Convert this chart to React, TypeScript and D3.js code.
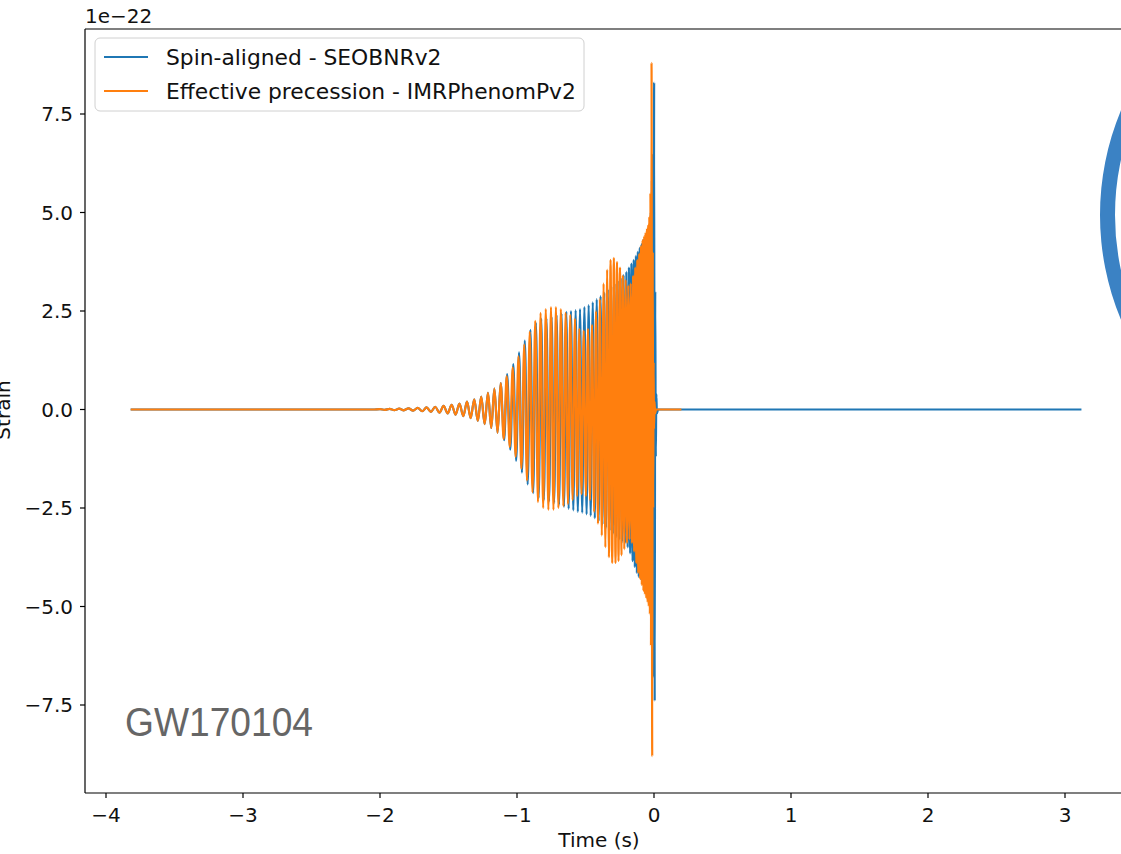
import React from 'react';
import * as d3 from 'd3';

const xTicks = [-4, -3, -2, -1, 0, 1, 2, 3];
const yTicks = [-7.5, -5, -2.5, 0, 2.5, 5, 7.5];
const seriesNames = ['Spin-aligned - SEOBNRv2', 'Effective precession - IMRPhenomPv2'];
const seriesColors = ['#1f77b4', '#ff7f0e'];
const eventLabel = 'GW170104';

// Effective precession - IMRPhenomPv2 (extrema, units of 1e-22)
const orangeT = [
  -3.82, -2.05,
  -2.0, -1.965, -1.93, -1.895, -1.86, -1.826, -1.792, -1.758, -1.725, -1.692,
  -1.66, -1.628, -1.597, -1.566, -1.536, -1.506, -1.477, -1.448, -1.42, -1.392,
  -1.365, -1.338, -1.312, -1.286, -1.261, -1.236, -1.212, -1.188, -1.165, -1.142,
  -1.119, -1.097, -1.075, -1.053, -1.031, -1.01, -0.989, -0.968, -0.947, -0.927,
  -0.907, -0.887, -0.867, -0.847, -0.828, -0.809, -0.79, -0.771, -0.752, -0.734,
  -0.716, -0.698, -0.68, -0.662, -0.645, -0.628, -0.611, -0.594, -0.577, -0.561,
  -0.545, -0.529, -0.513, -0.497, -0.482, -0.467, -0.452, -0.437, -0.423, -0.409,
  -0.395, -0.381, -0.368, -0.355, -0.342, -0.329, -0.317, -0.305, -0.293, -0.281,
  -0.27, -0.259, -0.248, -0.237, -0.227, -0.217, -0.207, -0.197, -0.188, -0.179,
  -0.17, -0.161, -0.153, -0.145, -0.137, -0.129, -0.122, -0.115, -0.108, -0.101,
  -0.095, -0.089, -0.083, -0.077, -0.071, -0.066, -0.061, -0.056, -0.051, -0.046,
  -0.042, -0.038, -0.034, -0.03, -0.026, -0.022, -0.018, -0.013, -0.009, -0.006,
  -0.003, 0.0, 0.004, 0.008, 0.015, 0.2,
];
const orangeV = [
  0, 0,
  0.01, -0.01, 0.015, -0.015, 0.02, -0.02, 0.03, -0.03, 0.04, -0.045,
  0.055, -0.06, 0.07, -0.08, 0.09, -0.1, 0.12, -0.13, 0.15, -0.17,
  0.2, -0.22, 0.26, -0.29, 0.33, -0.37, 0.42, -0.47, 0.53, -0.59,
  0.67, -0.75, 0.85, -0.95, 1.07, -1.2, 1.35, -1.5, 1.65, -1.8,
  1.97, -2.1, 2.25, -2.35, 2.45, -2.5, 2.55, -2.55, 2.6, -2.55,
  2.6, -2.5, 2.55, -2.45, 2.45, -2.4, 2.4, -2.3, 2.3, -2.2,
  2.05, -2.15, 2.0, -2.2, 2.05, -2.3, 2.15, -2.6, 2.5, -2.9,
  2.8, -3.2, 3.2, -3.5, 3.55, -3.75, 3.8, -3.9, 3.85, -3.9,
  3.75, -3.85, 3.6, -3.7, 3.4, -3.55, 3.3, -3.4, 3.15, -3.3,
  3.2, -3.4, 3.4, -3.6, 3.6, -3.9, 3.8, -4.15, 3.95, -4.3,
  4.15, -4.45, 4.3, -4.6, 4.4, -4.7, 4.5, -4.8, 4.6, -4.9,
  4.7, -5.0, 4.9, -5.2, 5.5, -6.0, 8.8, -8.8, 4.0, -2.5,
  1.2, -0.5, 0.2, -0.1, 0, 0,
];

// Spin-aligned - SEOBNRv2
const blueT = [
  -3.82, -2.05,
  -2.0, -1.965, -1.93, -1.895, -1.86, -1.826, -1.792, -1.758, -1.725, -1.692,
  -1.66, -1.628, -1.597, -1.566, -1.536, -1.506, -1.477, -1.448, -1.42, -1.392,
  -1.365, -1.338, -1.312, -1.286, -1.261, -1.236, -1.212, -1.188, -1.165, -1.142,
  -1.119, -1.094, -1.072, -1.049, -1.027, -1.006, -0.985, -0.964, -0.943, -0.922,
  -0.902, -0.882, -0.862, -0.842, -0.823, -0.804, -0.785, -0.766, -0.747, -0.729,
  -0.711, -0.693, -0.675, -0.657, -0.64, -0.623, -0.606, -0.589, -0.572, -0.556,
  -0.54, -0.524, -0.508, -0.492, -0.477, -0.462, -0.447, -0.432, -0.418, -0.404,
  -0.39, -0.376, -0.363, -0.35, -0.337, -0.324, -0.312, -0.3, -0.288, -0.276,
  -0.265, -0.254, -0.243, -0.232, -0.222, -0.212, -0.202, -0.192, -0.183, -0.174,
  -0.165, -0.156, -0.148, -0.14, -0.132, -0.125, -0.118, -0.111, -0.104, -0.097,
  -0.091, -0.085, -0.079, -0.073, -0.067, -0.062, -0.057, -0.052, -0.047, -0.043,
  -0.039, -0.035, -0.031, -0.027, -0.023, -0.019, -0.015, -0.011, -0.007, -0.003,
  0.001, 0.005, 0.009, 0.013, 0.017, 0.021, 0.03, 3.12,
];
const blueV = [
  0, 0,
  0.01, -0.01, 0.015, -0.015, 0.02, -0.02, 0.03, -0.03, 0.04, -0.045,
  0.055, -0.06, 0.07, -0.08, 0.09, -0.1, 0.12, -0.13, 0.15, -0.17,
  0.2, -0.22, 0.26, -0.29, 0.33, -0.37, 0.42, -0.47, 0.53, -0.59,
  0.67, -0.78, 0.9, -1.02, 1.15, -1.3, 1.45, -1.6, 1.75, -1.9,
  2.02, -2.12, 2.2, -2.25, 2.3, -2.3, 2.32, -2.33, 2.35, -2.37,
  2.4, -2.42, 2.44, -2.47, 2.48, -2.52, 2.5, -2.56, 2.52, -2.6,
  2.55, -2.62, 2.6, -2.66, 2.65, -2.7, 2.72, -2.76, 2.8, -2.84,
  2.88, -2.92, 2.96, -3.0, 3.05, -3.08, 3.12, -3.16, 3.2, -3.24,
  3.28, -3.3, 3.35, -3.36, 3.42, -3.4, 3.5, -3.5, 3.6, -3.65,
  3.7, -3.85, 3.8, -4.0, 3.9, -4.15, 4.0, -4.25, 4.1, -4.3,
  4.2, -4.35, 4.3, -4.4, 4.35, -4.45, 4.4, -4.5, 4.5, -4.55,
  4.55, -4.6, 4.6, -4.8, 5.0, -5.3, 5.8, -6.0, 6.5, -6.8,
  8.3, -7.4, 3.0, -1.2, 0.4, -0.1, 0, 0,
];

const FONT = '"DejaVu Sans", sans-serif';

export default function App() {
  const W = 1121;
  const H = 854;
  const axLeft = 85;
  const axTop = 29;
  const axBottom = 793;
  const axRight = 1129;

  const x = d3.scaleLinear().domain([-4, 3]).range([106, 1065]);
  const y = d3.scaleLinear().domain([-7.5, 7.5]).range([705, 114]);
  const fmtY = d3.format('.1f');
  const fmtX = d3.format('d');

  const line = d3
    .line<[number, number]>()
    .x((d) => x(d[0]))
    .y((d) => y(d[1]))
    .curve(d3.curveMonotoneX);

  const zip = (t: number[], v: number[]) =>
    t.slice(0, Math.min(t.length, v.length)).map((tt, i) => [tt, v[i]] as [number, number]);

  const blueD = line(zip(blueT, blueV)) || '';
  const orangeD = line(zip(orangeT, orangeV)) || '';

  const ring = d3.arc()({
    innerRadius: 257,
    outerRadius: 272,
    startAngle: 0,
    endAngle: 2 * Math.PI,
  } as any) as string;

  return (
    <svg
      width={W}
      height={H}
      style={{ position: 'absolute', left: 0, top: 0, background: '#fff' }}
      fontFamily={FONT}
    >
      <rect x={0} y={0} width={W} height={H} fill="#fff" />
      <defs>
        <clipPath id="plotclip">
          <rect x={axLeft} y={axTop} width={axRight - axLeft} height={axBottom - axTop} />
        </clipPath>
      </defs>

      <g clipPath="url(#plotclip)">
        <path d={blueD} fill="none" stroke={seriesColors[0]} strokeWidth={2.2} strokeLinejoin="round" />
        <path d={orangeD} fill="none" stroke={seriesColors[1]} strokeWidth={2.2} strokeLinejoin="round" />
      </g>

      {/* spines */}
      <line x1={axLeft} x2={axLeft} y1={axTop} y2={axBottom} stroke="#000" strokeWidth={1.2} />
      <line x1={axLeft} x2={axRight} y1={axTop} y2={axTop} stroke="#000" strokeWidth={1.2} />
      <line x1={axLeft} x2={axRight} y1={axBottom} y2={axBottom} stroke="#000" strokeWidth={1.2} />
      <line x1={axRight} x2={axRight} y1={axTop} y2={axBottom} stroke="#000" strokeWidth={1.2} />

      {/* x ticks */}
      {xTicks.map((t) => (
        <g key={'x' + t}>
          <line x1={x(t)} x2={x(t)} y1={axBottom} y2={axBottom + 5} stroke="#000" strokeWidth={1.2} />
          <text x={x(t)} y={822} textAnchor="middle" fontSize={20} fill="#111">
            {fmtX(t)}
          </text>
        </g>
      ))}
      {/* y ticks */}
      {yTicks.map((t) => (
        <g key={'y' + t}>
          <line x1={axLeft - 5} x2={axLeft} y1={y(t)} y2={y(t)} stroke="#000" strokeWidth={1.2} />
          <text x={73} y={y(t)} dy="0.36em" textAnchor="end" fontSize={20} fill="#111">
            {fmtY(t)}
          </text>
        </g>
      ))}

      <text x={85} y={23} fontSize={20} fill="#111">
        1e−22
      </text>
      <text x={599} y={847} textAnchor="middle" fontSize={20} fill="#111">
        Time (s)
      </text>
      <text
        transform={`translate(10, 410) rotate(-90)`}
        textAnchor="middle"
        fontSize={20}
        fill="#111"
      >
        Strain
      </text>

      {/* legend */}
      <rect x={95} y={38} width={489} height={73} rx={5} fill="#fff" fillOpacity={0.8} stroke="#d0d0d0" strokeWidth={1} />
      {seriesNames.map((name, i) => (
        <g key={name}>
          <line
            x1={104}
            x2={148}
            y1={57 + i * 34}
            y2={57 + i * 34}
            stroke={seriesColors[i]}
            strokeWidth={2.2}
          />
          <text x={166} y={57 + i * 34} dy="0.36em" fontSize={21.8} fill="#111">
            {name}
          </text>
        </g>
      ))}

      <text
        x={125}
        y={736}
        fontSize={41}
        fill="#666"
        fontFamily='"Liberation Sans", Arial, sans-serif'
        textLength={188}
        lengthAdjust="spacingAndGlyphs"
      >
        {eventLabel}
      </text>

      <path d={ring} transform="translate(1372, 215)" fill="#3b82c4" />
    </svg>
  );
}
